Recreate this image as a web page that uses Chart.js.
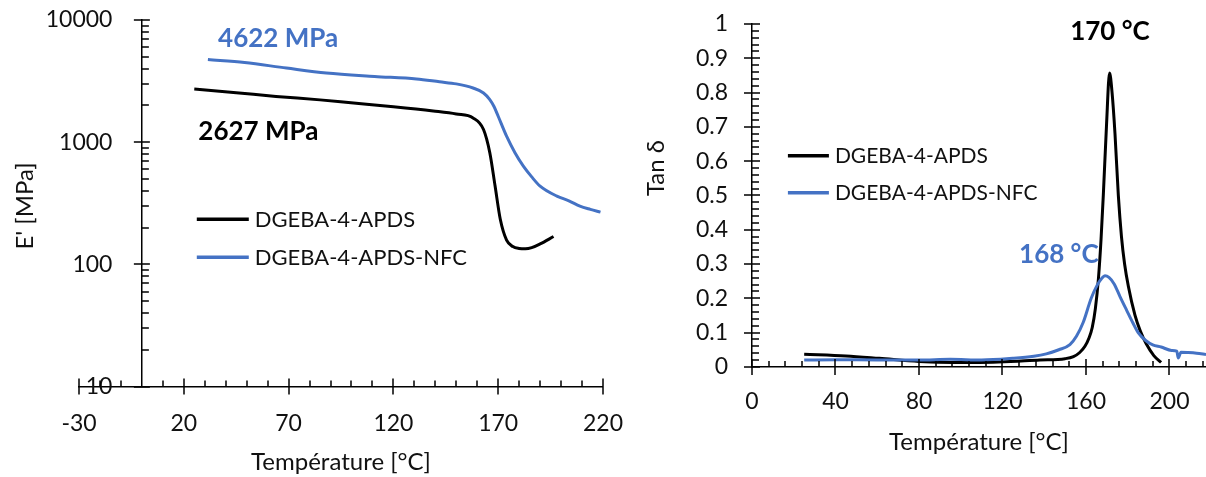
<!DOCTYPE html>
<html>
<head>
<meta charset="utf-8">
<script src="https://cdn.jsdelivr.net/npm/chart.js@4.4.0/dist/chart.umd.min.js"></script>
<style>
  html, body { margin: 0; padding: 0; background: #fff; }
  #left { position: absolute; left: 0; top: 0; width: 623px; height: 477px; }
  #right { position: absolute; left: 620px; top: 0; width: 586px; height: 477px; }
</style>
</head>
<body>
<div id="left"><canvas id="chartmodulus"></canvas></div>
<div id="right"><canvas id="charttan"></canvas></div>
<script>
// series names
const seriesNames = ['DGEBA-4-APDS', 'DGEBA-4-APDS-NFC'];

// storage modulus E' [MPa] vs temperature
const tempNeat = [25, 45, 64, 85, 101, 120, 139, 150, 158, 163, 166, 168.5, 171, 174, 177, 180, 183, 186, 190, 196.4];
const modulusNeat = [2720, 2540, 2370, 2220, 2090, 1950, 1800, 1700, 1580, 1270, 820, 440, 234, 158, 140, 135, 134, 137, 147, 169];
const tempNfc = [31.5, 49, 69, 88, 111, 131, 142, 150, 158, 163, 166, 168, 170, 174, 178, 182, 186, 190, 198, 204, 209, 214, 218.8];
const modulusNfc = [4750, 4490, 4040, 3680, 3450, 3290, 3120, 3000, 2775, 2530, 2232, 1960, 1630, 1120, 820, 637, 520, 437, 362, 330, 300, 282, 268];

// tan delta vs temperature
const tempTanNeat = [25, 45, 61, 80, 109, 138, 150, 154, 157, 159.5, 161.5, 163, 164.5, 166, 167.2, 168.3, 169.8, 171.3, 172.5, 173.9, 175.5, 177, 178.5, 180.3, 183.5, 186, 188.8, 192.5, 196];
const tanNeat = [0.037, 0.032, 0.025, 0.016, 0.013, 0.02, 0.024, 0.03, 0.042, 0.06, 0.085, 0.115, 0.17, 0.26, 0.37, 0.5, 0.7, 0.857, 0.8, 0.68, 0.5, 0.38, 0.3, 0.235, 0.15, 0.105, 0.068, 0.033, 0.013];
const tempTanNfc = [25, 40, 60, 80, 95, 110, 125, 135, 141, 147, 152.3, 155.5, 158.7, 162.5, 165.5, 167.5, 169.1, 171, 173.5, 176.3, 179.5, 182.5, 185, 188.6, 192, 196, 201, 203.5, 204.2, 205.5, 209, 213, 217.5];
const tanNfc = [0.02, 0.021, 0.02, 0.02, 0.022, 0.02, 0.025, 0.031, 0.038, 0.05, 0.065, 0.09, 0.13, 0.2, 0.24, 0.258, 0.266, 0.261, 0.242, 0.205, 0.165, 0.128, 0.1, 0.077, 0.064, 0.058, 0.048, 0.046, 0.026, 0.043, 0.042, 0.04, 0.036];

// tick labels
const xTicksModulus = [-30, 20, 70, 120, 170, 220];
const yTicksModulus = [10, 100, 1000, 10000];
const xTicksTan = [0, 40, 80, 120, 160, 200];
const yTicksTan = [0, 0.1, 0.2, 0.3, 0.4, 0.5, 0.6, 0.7, 0.8, 0.9, 1];

const FONT = "Lato, 'Liberation Sans', sans-serif";
const TEXT = '#111';
const BLUE = '#4472C4';
const NONE = 'rgba(0,0,0,0)';

const pairs = (xs, ys) => xs.map((x, i) => ({x: x, y: ys[i]}));

// excel-like axis ticks: major crossing the axis, minor inside
const crossTicks = {
  id: 'crossTicks',
  afterDraw(chart, args, opts) {
    const {ctx, chartArea, scales: {x, y}} = chart;
    const axisX = opts.yAt === undefined ? chartArea.left : x.getPixelForValue(opts.yAt);
    const axisY = chartArea.bottom;
    ctx.save();
    ctx.strokeStyle = '#000';
    ctx.lineWidth = 1.5;
    ctx.beginPath();
    opts.xMajor.forEach(v => {
      const px = Math.round(x.getPixelForValue(v));
      ctx.moveTo(px, axisY - 8); ctx.lineTo(px, axisY + 8);
    });
    opts.xMinor.forEach(v => {
      const px = Math.round(x.getPixelForValue(v));
      ctx.moveTo(px, axisY - 6); ctx.lineTo(px, axisY);
    });
    opts.yMajor.forEach(v => {
      const py = Math.round(y.getPixelForValue(v));
      ctx.moveTo(axisX - 8, py); ctx.lineTo(axisX + 8, py);
    });
    opts.yMinor.forEach(v => {
      const py = Math.round(y.getPixelForValue(v));
      ctx.moveTo(axisX, py); ctx.lineTo(axisX + 7, py);
    });
    ctx.stroke();
    ctx.restore();
  }
};

// y title, value notes and legend
const chartText = {
  id: 'chartText',
  afterDraw(chart, args, opts) {
    const {ctx, scales: {x, y}} = chart;
    ctx.save();
    ctx.textAlign = 'center';
    ctx.textBaseline = 'middle';
    const t = opts.yTitle;
    ctx.font = `${t.size}px ${FONT}`;
    ctx.fillStyle = TEXT;
    ctx.translate(t.px, t.py);
    ctx.rotate(-Math.PI / 2);
    ctx.fillText(t.text, 0, 0);
    ctx.setTransform(1, 0, 0, 1, 0, 0);

    opts.notes.forEach(n => {
      ctx.font = `bold ${n.size}px ${FONT}`;
      ctx.fillStyle = n.color;
      ctx.fillText(n.text, x.getPixelForValue(n.x), y.getPixelForValue(n.y));
    });

    const lg = opts.legend;
    const lx = x.getPixelForValue(lg.x);
    const ly = y.getPixelForValue(lg.y);
    ctx.textAlign = 'left';
    ctx.font = `${lg.size}px ${FONT}`;
    chart.data.datasets.forEach((ds, i) => {
      const yy = ly + i * lg.gap;
      ctx.strokeStyle = ds.borderColor;
      ctx.lineWidth = 3.5;
      ctx.beginPath();
      ctx.moveTo(lx, yy);
      ctx.lineTo(lx + lg.len, yy);
      ctx.stroke();
      ctx.fillStyle = TEXT;
      ctx.fillText(ds.label, lx + lg.len + 6, yy + 1);
    });
    ctx.restore();
  }
};

const tickFont = {family: FONT, size: 23};
const titleFont = {family: FONT, size: 24};

const ctx = document.getElementById('chartmodulus').getContext('2d');

const chartmodulus = new Chart(ctx, {
  type: 'line',
  data: {
    datasets: [{
      label: seriesNames[0],
      data: pairs(tempNeat, modulusNeat),
      borderColor: '#000',
      order: 1
    }, {
      label: seriesNames[1],
      data: pairs(tempNfc, modulusNfc),
      borderColor: BLUE,
      order: 0
    }]
  },
  options: {
    responsive: true,
    maintainAspectRatio: false,
    animation: false,
    layout: {padding: {left: 79, right: 17, top: 20, bottom: 0}},
    elements: {
      point: {radius: 0},
      line: {borderWidth: 3, cubicInterpolationMode: 'monotone', fill: false}
    },
    scales: {
      x: {
        type: 'linear',
        position: 'bottom',
        min: -30,
        max: 220,
        afterBuildTicks: scale => { scale.ticks = xTicksModulus.map(v => ({value: v})); },
        ticks: {font: tickFont, color: TEXT, padding: 0, autoSkip: false, maxRotation: 0, callback: v => String(v)},
        grid: {drawOnChartArea: false, drawTicks: true, tickLength: 23, tickColor: NONE},
        border: {color: '#000', width: 1.5},
        title: {display: true, text: 'Température [°C]', color: TEXT, font: titleFont, padding: {top: 11, bottom: 0}}
      },
      y: {
        type: 'logarithmic',
        position: {x: 0},
        min: 10,
        max: 10000,
        afterBuildTicks: scale => { scale.ticks = yTicksModulus.map(v => ({value: v})); },
        // labels of an axis placed at x = 0 sit right on the axis, so pad them with spaces
        ticks: {font: tickFont, color: TEXT, padding: 0, autoSkip: false, callback: v => String(v) + '     '},
        grid: {drawOnChartArea: false, drawTicks: false},
        border: {color: '#000', width: 1.5}
      }
    },
    plugins: {
      legend: {display: false},
      tooltip: {enabled: false},
      crossTicks: {
        yAt: 0,
        xMajor: xTicksModulus,
        xMinor: Array.from({length: 26}, (_, i) => -30 + i * 10).filter(v => (v + 30) % 50 !== 0 && v !== 0),
        yMajor: yTicksModulus,
        yMinor: [10, 100, 1000].flatMap(d => [2, 3, 4, 5, 6, 7, 8, 9].map(k => k * d))
      },
      chartText: {
        yTitle: {text: "E' [MPa]", px: 25, py: 206, size: 24},
        notes: [
          {text: '4622 MPa', x: 65, y: 7100, size: 26, color: BLUE},
          {text: '2627 MPa', x: 55.6, y: 1222, size: 26, color: '#000'}
        ],
        legend: {x: 26.2, y: 234, gap: 38, len: 52, size: 22}
      }
    }
  },
  plugins: [crossTicks, chartText]
});


const ctx2 = document.getElementById('charttan').getContext('2d');

const charttan = new Chart(ctx2, {
  type: 'line',
  data: {
    datasets: [{
      label: seriesNames[0],
      data: pairs(tempTanNeat, tanNeat),
      borderColor: '#000',
      order: 1
    }, {
      label: seriesNames[1],
      data: pairs(tempTanNfc, tanNfc),
      borderColor: BLUE,
      order: 0
    }]
  },
  options: {
    responsive: true,
    maintainAspectRatio: false,
    animation: false,
    layout: {padding: {left: 0, right: 0, top: 24, bottom: 0}},
    elements: {
      point: {radius: 0},
      line: {borderWidth: 3, cubicInterpolationMode: 'monotone', fill: false}
    },
    scales: {
      x: {
        type: 'linear',
        position: 'bottom',
        min: 0,
        max: 217.5,
        afterBuildTicks: scale => { scale.ticks = xTicksTan.map(v => ({value: v})); },
        ticks: {font: tickFont, color: TEXT, padding: 0, autoSkip: false, maxRotation: 0, callback: v => String(v)},
        grid: {drawOnChartArea: false, drawTicks: true, tickLength: 21, tickColor: NONE},
        border: {color: '#000', width: 1.5},
        title: {display: true, text: 'Température [°C]', color: TEXT, font: titleFont, padding: {top: 12.5, bottom: 20.2}}
      },
      y: {
        type: 'linear',
        position: 'left',
        min: 0,
        max: 1,
        afterBuildTicks: scale => { scale.ticks = yTicksTan.map(v => ({value: v})); },
        afterFit: scale => { scale.width = 132; },
        ticks: {font: tickFont, color: TEXT, padding: 0, autoSkip: false, callback: v => String(v)},
        grid: {drawOnChartArea: false, drawTicks: true, tickLength: 24, tickColor: NONE},
        border: {color: '#000', width: 1.5}
      }
    },
    plugins: {
      legend: {display: false},
      tooltip: {enabled: false},
      crossTicks: {
        xMajor: xTicksTan,
        xMinor: Array.from({length: 27}, (_, i) => 8 + i * 8).filter(v => v % 40 !== 0),
        yMajor: yTicksTan,
        yMinor: Array.from({length: 50}, (_, i) => +(i * 0.02).toFixed(2)).filter((v, i) => i % 5 !== 0)
      },
      chartText: {
        yTitle: {text: 'Tan δ', px: 36, py: 168, size: 24},
        notes: [
          {text: '170 °C', x: 171.5, y: 0.977, size: 26, color: '#000'},
          {text: '168 °C', x: 147, y: 0.328, size: 26, color: BLUE}
        ],
        legend: {x: 17.2, y: 0.616, gap: 37, len: 41, size: 21}
      }
    }
  },
  plugins: [crossTicks, chartText]
});
</script>
</body>
</html>
